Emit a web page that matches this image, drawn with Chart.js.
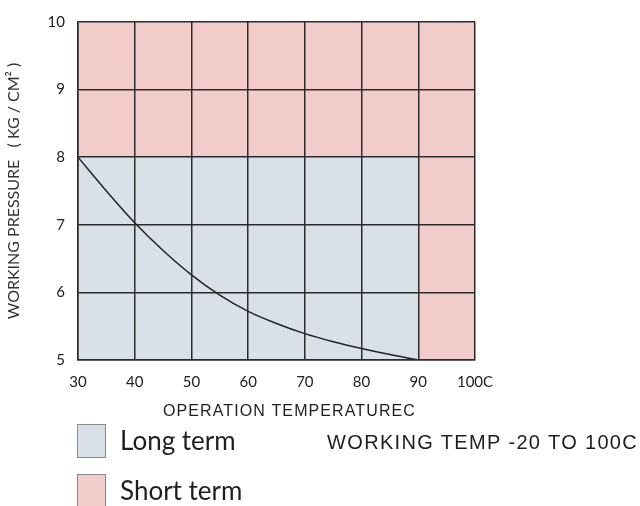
<!DOCTYPE html>
<html>
<head>
<meta charset="utf-8">
<script src="https://cdn.jsdelivr.net/npm/chart.js@4.4.0/dist/chart.umd.min.js"></script>
<style>
  html, body { margin: 0; padding: 0; background: #ffffff; }
</style>
</head>
<body>
<canvas id="myChart" width="640" height="506"></canvas>
<script>
// --- data ---
const temps = [30, 35, 40, 45, 50, 55, 60, 65, 70, 75, 80, 85, 90];
const pressures = [8.0, 7.5, 7.03, 6.62, 6.26, 5.96, 5.72, 5.54, 5.39, 5.27, 5.17, 5.08, 5.0];
const xTicks = [30, 40, 50, 60, 70, 80, 90, 100];
const yTicks = [5, 6, 7, 8, 9, 10];
const longTermTemps = [30, 90];
const longTermMax = 8;
const shortTermTemps = [30, 100];
const shortTermMax = 10;

const LINE = '#2b2b2b';
const BLUE = '#d9e0e8';
const PINK = '#f2cccb';
const ROUND = 'Lato, "DejaVu Sans", sans-serif';
const ARIAL = '"Liberation Sans", Arial, sans-serif';

// x title, legend and the note under the plot
const bottomText = {
  id: 'bottomText',
  afterDraw(chart) {
    const ctx = chart.ctx;
    const area = chart.chartArea;
    ctx.save();
    ctx.fillStyle = '#1e1e1e';
    ctx.textBaseline = 'alphabetic';
    ctx.textAlign = 'left';
    ctx.font = '16px ' + ARIAL;
    ctx.letterSpacing = '1.1px';
    ctx.fillText('OPERATION TEMPERATUREC', 163, 416);

    const items = [
      { label: 'Long term', color: chart.data.datasets[1].backgroundColor, y: 424 },
      { label: 'Short term', color: chart.data.datasets[2].backgroundColor, y: 474 }
    ];
    ctx.letterSpacing = '0px';
    items.forEach(item => {
      ctx.fillStyle = item.color;
      ctx.fillRect(area.left - 1, item.y, 29, 34);
      ctx.strokeStyle = '#8a8a8a';
      ctx.lineWidth = 1;
      ctx.strokeRect(area.left - 0.5, item.y + 0.5, 28, 33);
      ctx.fillStyle = '#1e1e1e';
      ctx.font = '26px ' + ROUND;
      ctx.fillText(item.label, 120, item.y + 26);
    });

    ctx.font = '20px ' + ARIAL;
    ctx.letterSpacing = '1.3px';
    ctx.textAlign = 'right';
    ctx.fillText('WORKING TEMP -20 TO 100C', 638, 449);
    ctx.restore();
  }
};

const ctx = document.getElementById('myChart').getContext('2d');
new Chart(ctx, {
  type: 'line',
  data: {
    datasets: [
      {
        label: 'Pressure',
        data: temps.map((t, i) => ({ x: t, y: pressures[i] })),
        borderColor: '#222',
        borderWidth: 1.5,
        pointRadius: 0,
        fill: false,
        cubicInterpolationMode: 'monotone',
        order: 0
      },
      {
        label: 'Long term',
        data: longTermTemps.map(t => ({ x: t, y: longTermMax })),
        backgroundColor: BLUE,
        borderWidth: 0,
        pointRadius: 0,
        fill: 'start',
        order: 1
      },
      {
        label: 'Short term',
        data: shortTermTemps.map(t => ({ x: t, y: shortTermMax })),
        backgroundColor: PINK,
        borderWidth: 0,
        pointRadius: 0,
        fill: 'start',
        order: 2
      }
    ]
  },
  options: {
    responsive: false,
    animation: false,
    layout: { padding: { top: 14, right: 165, left: 0, bottom: 0 } },
    plugins: {
      legend: { display: false },
      tooltip: { enabled: false }
    },
    scales: {
      x: {
        type: 'linear',
        min: 30,
        max: 100,
        afterBuildTicks: scale => { scale.ticks = xTicks.map(v => ({ value: v })); },
        afterFit: scale => { scale.height = 146; },
        grid: { color: LINE, lineWidth: 1.5, drawTicks: false, z: 1 },
        border: { display: true, color: LINE, width: 1.5, z: 1 },
        ticks: {
          color: '#222',
          padding: 13,
          maxRotation: 0,
          font: { family: ROUND, size: 15 },
          callback: v => (v === 100 ? '100C' : v)
        }
      },
      y: {
        min: 5,
        max: 10,
        afterBuildTicks: scale => { scale.ticks = yTicks.map(v => ({ value: v })); },
        afterFit: scale => { scale.width = 78; },
        grid: { color: LINE, lineWidth: 1.5, drawTicks: false, z: 1 },
        border: { display: true, color: LINE, width: 1.5, z: 1 },
        ticks: {
          color: '#222',
          padding: 13,
          font: { family: ROUND, size: 15 }
        },
        title: {
          display: true,
          text: 'WORKING PRESSURE   ( KG / CM² )',
          color: '#333',
          font: { family: ROUND, size: 16 },
          padding: { top: 4, bottom: 0 }
        }
      }
    }
  },
  plugins: [bottomText]
});
</script>
</body>
</html>
